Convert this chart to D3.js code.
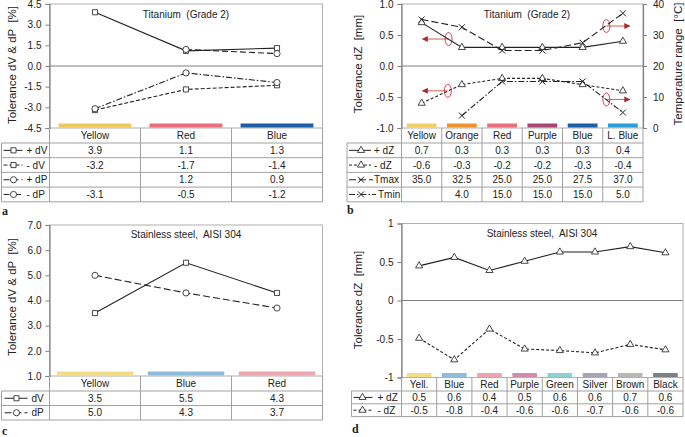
<!DOCTYPE html>
<html>
<head>
<meta charset="utf-8">
<script src="https://cdn.jsdelivr.net/npm/d3@7"></script>
<style>
  body { margin: 0; background: #fff; }
  text { font-family: "Liberation Sans", Arial, sans-serif; fill: #222; }
</style>
</head>
<body>
<script>
// ---- panel a : Titanium (Grade 2), dV & dP
var catsA = ["Yellow", "Red", "Blue"];
var barColorsA = ["#efca5a", "#eb6c7b", "#1d5ea7"];
var plusDVa = [3.9, 1.1, 1.3];
var minusDVa = [-3.2, -1.7, -1.4];
var plusDPa = [null, 1.2, 0.9];
var minusDPa = [-3.1, -0.5, -1.2];
var ticksA = [-4.5, -3.0, -1.5, 0.0, 1.5, 3.0, 4.5];

// ---- panel b : Titanium (Grade 2), dZ & temperature
var catsB = ["Yellow", "Orange", "Red", "Purple", "Blue", "L. Blue"];
var barColorsB = ["#f3cf63", "#ef932b", "#ec6d7c", "#a84676", "#1a5fa6", "#2c9ddb"];
var plusDZb = [0.7, 0.3, 0.3, 0.3, 0.3, 0.4];
var minusDZb = [-0.6, -0.3, -0.2, -0.2, -0.3, -0.4];
var tMaxB = [35.0, 32.5, 25.0, 25.0, 27.5, 37.0];
var tMinB = [null, 4.0, 15.0, 15.0, 15.0, 5.0];
var ticksB = [-1.0, -0.5, 0.0, 0.5, 1.0];
var ticksBRight = [0, 10, 20, 30, 40];

// ---- panel c : Stainless steel, dV & dP
var catsC = ["Yellow", "Blue", "Red"];
var barColorsC = ["#f2dc88", "#8dbbdc", "#eca6b2"];
var dVc = [3.5, 5.5, 4.3];
var dPc = [5.0, 4.3, 3.7];
var ticksC = [1, 2, 3, 4, 5, 6, 7];

// ---- panel d : Stainless steel, dZ
var catsD = ["Yell.", "Blue", "Red", "Purple", "Green", "Silver", "Brown", "Black"];
var barColorsD = ["#f2dc8a", "#8fbcdc", "#eba5b3", "#d18ea8", "#8fd0d3", "#a6a4b6", "#b8b8b8", "#7f7f88"];
var plusDZd = [0.45, 0.56, 0.39, 0.51, 0.63, 0.63, 0.70, 0.62];
var minusDZd = [-0.49, -0.77, -0.37, -0.63, -0.65, -0.68, -0.57, -0.64];
var plusDZdText = ["0.5", "0.6", "0.4", "0.5", "0.6", "0.6", "0.7", "0.6"];
var minusDZdText = ["-0.5", "-0.8", "-0.4", "-0.6", "-0.6", "-0.7", "-0.6", "-0.6"];
var ticksD = [-1, -0.5, 0, 0.5, 1];

var svg = d3.select("body").append("svg")
    .attr("width", 685)
    .attr("height", 437);

svg.append("defs").append("marker")
    .attr("id", "arrowhead")
    .attr("viewBox", "0 0 10 10")
    .attr("refX", 9).attr("refY", 5)
    .attr("markerWidth", 6).attr("markerHeight", 6)
    .attr("markerUnits", "userSpaceOnUse")
    .attr("orient", "auto")
  .append("path")
    .attr("d", "M0,0L10,5L0,10z")
    .attr("fill", "#a8282d");

function hy(s) { return s.replace(/\u2212/g, "-"); }
var f1 = function(d) { return hy(d3.format(".1f")(d)); };

function drawMarker(g, type, cx, cy) {
  if (type === "x") {
    g.append("path")
        .attr("d", "M" + (cx - 3) + "," + (cy - 3) + "L" + (cx + 3) + "," + (cy + 3) +
                   "M" + (cx - 3) + "," + (cy + 3) + "L" + (cx + 3) + "," + (cy - 3))
        .attr("stroke", "#222").attr("stroke-width", 1);
    return;
  }
  var sym = { square: d3.symbolSquare, circle: d3.symbolCircle, triangle: d3.symbolTriangle }[type];
  var size = { square: 26, circle: 30, triangle: 22 }[type];
  g.append("path")
      .attr("transform", "translate(" + cx + "," + cy + ")")
      .attr("d", d3.symbol().type(sym).size(size)())
      .attr("fill", "#fff")
      .attr("stroke", "#333")
      .attr("stroke-width", 0.9);
}

function panel(p) {
  var g = svg.append("g");
  var x = d3.scaleBand().domain(p.cats).range([p.left, p.right]);
  var y = d3.scaleLinear().domain(p.yDomain).range([p.bottom, p.top]);
  var y2 = p.y2Domain ? d3.scaleLinear().domain(p.y2Domain).range([p.bottom, p.top]) : null;
  var cx = function(c) { return x(c) + x.bandwidth() / 2; };

  // frame
  g.append("rect")
      .attr("x", p.left).attr("y", p.top)
      .attr("width", p.right - p.left).attr("height", p.bottom - p.top)
      .attr("fill", "none").attr("stroke", "#b0b0b0");

  // zero line
  if (p.zero) {
    g.append("line")
        .attr("x1", p.left).attr("x2", p.right)
        .attr("y1", y(0)).attr("y2", y(0))
        .attr("stroke", "#808080").attr("stroke-width", 1.2);
  }

  // coloured category bars
  g.selectAll(".bar").data(p.cats).enter().append("rect")
      .attr("x", function(d) { return x(d) + x.bandwidth() * (1 - p.barFrac) / 2; })
      .attr("width", x.bandwidth() * p.barFrac)
      .attr("y", p.bottom - 4.5)
      .attr("height", 4)
      .attr("fill", function(d, i) { return p.barColors[i]; });

  // axes
  g.append("g")
      .attr("transform", "translate(" + p.left + ",0)")
      .call(d3.axisLeft(y).tickValues(p.ticks).tickFormat(p.fmt).tickSize(4).tickPadding(4));
  if (y2) {
    g.append("g")
        .attr("transform", "translate(" + p.right + ",0)")
        .call(d3.axisRight(y2).tickValues(p.ticks2).tickFormat(d3.format("d")).tickSize(4).tickPadding(6));
  }
  g.selectAll(".domain").attr("stroke", "#808080").attr("stroke-width", 1.2);
  g.selectAll(".tick line").attr("stroke", "#808080");
  g.selectAll(".tick text").attr("font-size", "10px").attr("fill", "#222")
      .style("font-family", "'Liberation Sans', Arial, sans-serif");

  // axis titles
  g.append("text")
      .attr("transform", "translate(" + p.yTitleX + "," + p.yTitleY + ") rotate(-90)")
      .attr("text-anchor", "middle")
      .attr("font-size", "11.5px")
      .style("white-space", "pre")
      .text(p.yTitle);
  if (p.y2Title) {
    g.append("text")
        .attr("transform", "translate(" + p.y2TitleX + "," + p.yTitleY + ") rotate(-90)")
        .attr("text-anchor", "middle")
        .attr("font-size", "11.5px")
        .style("white-space", "pre")
        .text(p.y2Title);
  }

  // chart title
  g.append("text")
      .attr("x", p.titleX).attr("y", p.titleY)
      .attr("text-anchor", "middle")
      .attr("font-size", "10px")
      .style("white-space", "pre")
      .text(p.title);

  // annotations (ellipse + arrow)
  (p.annot || []).forEach(function(a) {
    var ax0 = x(p.cats[0]) + x.bandwidth() * (a.xi + 0.5);
    var ax1 = x(p.cats[0]) + x.bandwidth() * (a.toXi + 0.5);
    var ay = y(a.v);
    g.append("line")
        .attr("x1", ax0).attr("x2", ax1).attr("y1", ay).attr("y2", ay)
        .attr("stroke", "#d46a6a").attr("stroke-width", 1.1)
        .attr("marker-end", "url(#arrowhead)");
    g.append("ellipse")
        .attr("cx", ax0).attr("cy", ay).attr("rx", 3.5).attr("ry", 6.5)
        .attr("fill", "none").attr("stroke", "#d9434e").attr("stroke-width", 1);
  });

  // series
  p.series.forEach(function(s) {
    var sc = s.right ? y2 : y;
    var pts = p.cats.map(function(c, i) { return { c: c, v: s.values[i] }; })
        .filter(function(d) { return d.v !== null; });
    var line = d3.line()
        .x(function(d) { return cx(d.c); })
        .y(function(d) { return sc(d.v); });
    g.append("path")
        .datum(pts)
        .attr("d", line)
        .attr("fill", "none")
        .attr("stroke", "#222")
        .attr("stroke-width", 1.1)
        .attr("stroke-dasharray", s.dash);
    pts.forEach(function(d) { drawMarker(g, s.marker, cx(d.c), sc(d.v)); });
  });

  // data table
  var tg = g.append("g");
  var rowTops = [p.bottom, p.bottom + p.headH];
  p.series.forEach(function(s, i) { rowTops.push(p.bottom + p.headH + p.rowH * (i + 1)); });
  var tBottom = rowTops[rowTops.length - 1];
  var edges = p.cats.map(function(c) { return x(c); }).concat([p.right]);

  tg.selectAll(".vl").data(edges).enter().append("line")
      .attr("x1", function(d) { return d; }).attr("x2", function(d) { return d; })
      .attr("y1", p.bottom).attr("y2", tBottom)
      .attr("stroke", "#a0a0a0");
  tg.append("line")
      .attr("x1", p.tableLeft).attr("x2", p.tableLeft)
      .attr("y1", rowTops[1]).attr("y2", tBottom)
      .attr("stroke", "#a0a0a0");
  tg.selectAll(".hl").data(rowTops.slice(1)).enter().append("line")
      .attr("x1", p.tableLeft).attr("x2", p.right)
      .attr("y1", function(d) { return d; }).attr("y2", function(d) { return d; })
      .attr("stroke", "#a0a0a0");

  // header
  tg.selectAll(".hd").data(p.cats).enter().append("text")
      .attr("x", cx)
      .attr("y", p.bottom + p.headH / 2)
      .attr("dy", "0.36em")
      .attr("text-anchor", "middle")
      .attr("font-size", "10px")
      .text(function(d) { return d; });

  // rows
  p.series.forEach(function(s, i) {
    var ym = rowTops[i + 1] + p.rowH / 2;
    var L = p.tableLeft;
    var lineEnd = s.legEnd !== undefined ? s.legEnd : p.leg[1];
    var textX = s.legText !== undefined ? s.legText : p.leg[3];
    g.append("line")
        .attr("x1", L + p.leg[0]).attr("x2", L + lineEnd)
        .attr("y1", ym).attr("y2", ym)
        .attr("stroke", "#222").attr("stroke-width", 1)
        .attr("stroke-dasharray", s.dash);
    drawMarker(g, s.marker, L + p.leg[2], ym);
    g.append("text")
        .attr("x", L + textX).attr("y", ym).attr("dy", "0.36em")
        .attr("font-size", "10px")
        .text(s.label);
    tg.selectAll(".cell" + i).data(p.cats).enter().append("text")
        .attr("x", cx)
        .attr("y", ym).attr("dy", "0.36em")
        .attr("text-anchor", "middle")
        .attr("font-size", "10px")
        .text(function(d, j) {
          if (s.text) return s.text[j];
          return s.values[j] === null ? "" : f1(s.values[j]);
        });
  });

  // panel letter
  g.append("text")
      .attr("x", p.letterX).attr("y", p.letterY)
      .style("font-family", "'Liberation Serif', 'DejaVu Serif', serif")
      .attr("font-weight", "bold")
      .attr("font-size", "12px")
      .text(p.letter);
}

panel({
  cats: catsA, barColors: barColorsA, barFrac: 0.8,
  left: 49.5, right: 322.5, top: 4, bottom: 128,
  yDomain: [-4.5, 4.5], ticks: ticksA, fmt: f1, zero: true,
  yTitle: "Tolerance dV & dP  [%]", yTitleX: 16, yTitleY: 65,
  title: "Titanium  (Grade 2)", titleX: 186, titleY: 18,
  tableLeft: 1.5, headH: 15, rowH: 14.7, leg: [2, 21, 12, 25],
  letter: "a", letterX: 2, letterY: 215,
  series: [
    { label: "+ dV", values: plusDVa, marker: "square", dash: null },
    { label: "- dV", values: minusDVa, marker: "square", dash: "4,2" },
    { label: "+ dP", values: plusDPa, marker: "circle", dash: "6,3" },
    { label: "- dP", values: minusDPa, marker: "circle", dash: "6,2,1.5,2" }
  ]
});

panel({
  cats: catsB, barColors: barColorsB, barFrac: 0.74,
  left: 401.5, right: 643, top: 4, bottom: 128,
  yDomain: [-1, 1], ticks: ticksB, fmt: f1, zero: true,
  y2Domain: [0, 40], ticks2: ticksBRight,
  yTitle: "Tolerance dZ  [mm]", yTitleX: 361.5, yTitleY: 64,
  y2Title: "Temperature range  [\u00B0C]", y2TitleX: 681.5,
  title: "Titanium  (Grade 2)", titleX: 527, titleY: 18,
  tableLeft: 347, headH: 15, rowH: 14.7, leg: [2, 24, 14, 27],
  letter: "b", letterX: 347, letterY: 214,
  annot: [
    { xi: 0.67, v: 0.435, toXi: 0.02 },
    { xi: 4.59, v: 0.645, toXi: 5.17 },
    { xi: 0.65, v: -0.40, toXi: 0.02 },
    { xi: 4.59, v: -0.54, toXi: 5.17 }
  ],
  series: [
    { label: "+ dZ", values: plusDZb, marker: "triangle", dash: null },
    { label: "- dZ", values: minusDZb, marker: "triangle", dash: "3,2" },
    { label: "Tmax", values: tMaxB, marker: "x", dash: "7,3", right: true, legEnd: 26 },
    { label: "Tmin", values: tMinB, marker: "x", dash: "6,2,1.5,2", right: true, legEnd: 29, legText: 31 }
  ]
});

panel({
  cats: catsC, barColors: barColorsC, barFrac: 0.84,
  left: 49.5, right: 322.5, top: 225, bottom: 376,
  yDomain: [1, 7], ticks: ticksC, fmt: f1, zero: false,
  yTitle: "Tolerance dV & dP  [%]", yTitleX: 16, yTitleY: 297,
  title: "Stainless steel,  AISI 304", titleX: 186, titleY: 238,
  tableLeft: 1.5, headH: 15, rowH: 14.5, leg: [3, 26, 15, 30],
  letter: "c", letterX: 2, letterY: 435,
  series: [
    { label: "dV", values: dVc, marker: "square", dash: null },
    { label: "dP", values: dPc, marker: "circle", dash: "7,3" }
  ]
});

panel({
  cats: catsD, barColors: barColorsD, barFrac: 0.7,
  left: 401.5, right: 683, top: 223.5, bottom: 377.5,
  yDomain: [-1, 1], ticks: ticksD, fmt: function(d) { return hy(d3.format("")(d)); }, zero: true,
  yTitle: "Tolerance dZ  [mm]", yTitleX: 361.5, yTitleY: 300,
  title: "Stainless steel,  AISI 304", titleX: 542, titleY: 237,
  tableLeft: 351.5, headH: 13.5, rowH: 12.8, leg: [2, 21, 11, 26],
  letter: "d", letterX: 352, letterY: 433,
  series: [
    { label: "+ dZ", values: plusDZd, text: plusDZdText, marker: "triangle", dash: null },
    { label: "- dZ", values: minusDZd, text: minusDZdText, marker: "triangle", dash: "3,2" }
  ]
});
</script>
</body>
</html>
